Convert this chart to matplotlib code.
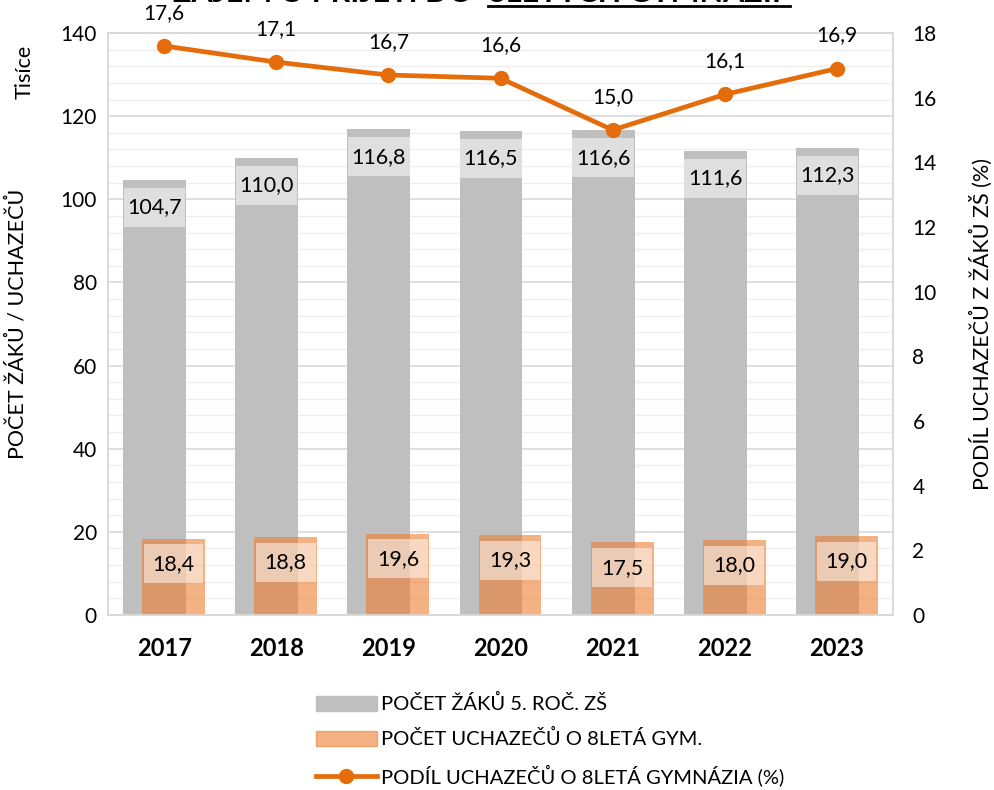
import numpy as np
import matplotlib.pyplot as plt
from matplotlib.lines import Line2D
from matplotlib.patches import Patch

plt.rcParams['font.family'] = ['Lato', 'DejaVu Sans']

# data
years = ['2017', '2018', '2019', '2020', '2021', '2022', '2023']
zaci = [104.7, 110.0, 116.8, 116.5, 116.6, 111.6, 112.3]        # tisice
uchazeci = [18.4, 18.8, 19.6, 19.3, 17.5, 18.0, 19.0]          # tisice
podil = [17.6, 17.1, 16.7, 16.6, 15.0, 16.1, 16.9]             # %

gray = '#BFBFBF'
orange = '#ED7D31'
line_c = '#E46C0A'

fig = plt.figure(figsize=(9.94, 7.9), dpi=100)
ax = fig.add_axes([108/994, 1-615/790, 785/994, 582/790])
ax2 = ax.twinx()

x = np.arange(len(years))
w = 0.56
off = 0.085

ax.bar(x - off, zaci, w, color=gray, zorder=2)
ax.bar(x + off, uchazeci, w, color=orange, alpha=0.6, zorder=3)

# label boxes (white, semi-transparent) inside the bars
for xi, v in zip(x, zaci):
    ax.bar(xi - off, 9.4, w * 0.98, bottom=v - 11.3, color='white', alpha=0.5, zorder=4)
    ax.text(xi - off, v - 6.6, f'{v:.1f}'.replace('.', ','), ha='center', va='center',
            fontsize=15.5, zorder=5)
for xi, v in zip(x, uchazeci):
    ax.bar(xi + off, 9.4, w * 0.95, bottom=v - 10.8, color='white', alpha=0.5, zorder=4)
    ax.text(xi + off, v - 6.1, f'{v:.1f}'.replace('.', ','), ha='center', va='center',
            fontsize=15.5, zorder=5)

ax.set_xlim(-0.5, 6.5)
ax.set_ylim(0, 140)
ax.set_yticks(np.arange(0, 141, 20))
ax.set_yticks(np.arange(0, 141, 4), minor=True)
ax.grid(axis='y', which='major', color='#D9D9D9', lw=1.2, zorder=0)
ax.grid(axis='y', which='minor', color='#EEEEEE', lw=1.0, zorder=0)
ax.set_axisbelow(True)
ax.set_xticks(x)
ax.set_xticklabels(years, fontsize=17, fontweight='bold')
ax.tick_params(axis='x', length=0, pad=16)
ax.tick_params(axis='y', which='both', length=0, labelsize=15, pad=8)
ax.set_ylabel('POČET ŽÁKŮ / UCHAZEČŮ', fontsize=15.5, labelpad=24)
fig.text(25/994, 1-72/790, 'Tisíce', ha='center', va='center', fontsize=15.5, rotation=90)

ax2.plot(x, podil, color=line_c, lw=3.4, marker='o', ms=10, zorder=6)
for xi, v in zip(x, podil):
    ax2.annotate(f'{v:.1f}'.replace('.', ','), (xi, v), xytext=(0, 24), textcoords='offset points',
                 ha='center', va='center', fontsize=15, annotation_clip=False)
ax2.set_ylim(0, 18)
ax2.set_yticks(np.arange(0, 19, 2))
ax2.tick_params(axis='y', length=0, labelsize=15, pad=14)
ax2.set_ylabel('PODÍL UCHAZEČŮ Z ŽÁKŮ ZŠ (%)', fontsize=15.5, labelpad=24)

for a in (ax, ax2):
    for s in a.spines.values():
        s.set_color('#D9D9D9')
        s.set_linewidth(1.2)

# title, mostly above the visible area (as in the source)
fig.text(480/994, 1-2.5/790, 'ZÁJEM O PŘIJETÍ DO ', ha='right', va='baseline',
         fontsize=22, fontweight='bold')
fig.text(488/994, 1-2.5/790, '8LETÝCH GYMNÁZIÍ', ha='left', va='baseline',
         fontsize=22, fontweight='bold')
fig.add_artist(Line2D([488/994, 790/994], [1-5.5/790, 1-5.5/790], color='black', lw=2))

handles = [Patch(color=gray), Patch(color=orange, alpha=0.6),
           Line2D([], [], color=line_c, lw=3.4, marker='o', ms=10)]
labels = ['POČET ŽÁKŮ 5. ROČ. ZŠ', 'POČET UCHAZEČŮ O 8LETÁ GYM.',
          'PODÍL UCHAZEČŮ O 8LETÁ GYMNÁZIA (%)']
fig.legend(handles, labels, loc='upper left', bbox_to_anchor=(298/994, 1-676/790),
           frameon=False, fontsize=14.5, handlelength=3.0, handleheight=0.8,
           handletextpad=0.2, labelspacing=0.8)

fig.savefig('out.png', dpi=100)
